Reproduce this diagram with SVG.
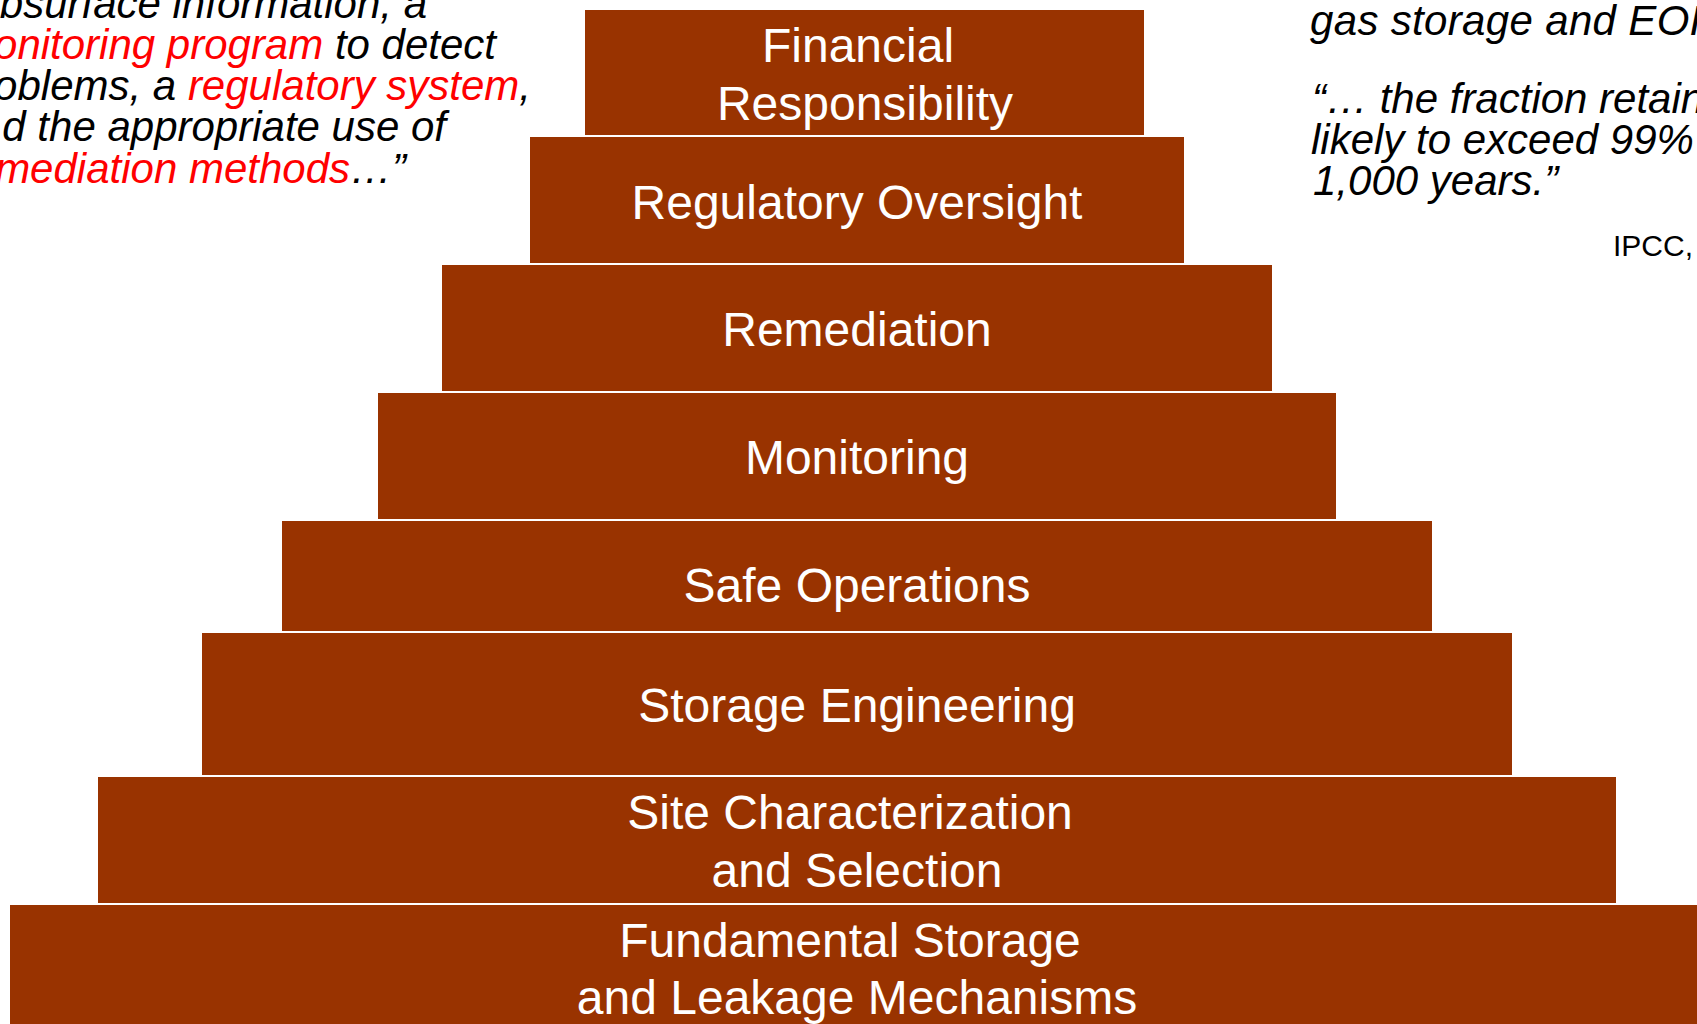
<svg xmlns="http://www.w3.org/2000/svg" width="1697" height="1024" viewBox="0 0 1697 1024">
<style>
.box{fill:#993300;}
.lbl{font-family:"Liberation Sans",Arial,sans-serif;font-size:48px;fill:#ffffff;text-anchor:middle;}
.q{font-family:"Liberation Sans",Arial,sans-serif;font-size:42px;font-style:italic;fill:#000000;}
.r{fill:#ff0000;}
.src{font-family:"Liberation Sans",Arial,sans-serif;font-size:30px;fill:#000000;}
</style>
<rect width="1697" height="1024" fill="#ffffff"/>
<g id="quote-left" class="q" text-anchor="end">
<text x="427" y="17.5">bsurface information, a</text>
<text x="496" y="58.8"><tspan class="r">onitoring program</tspan> to detect</text>
<text x="531" y="100"><tspan>oblems, a </tspan><tspan class="r">regulatory system</tspan>,</text>
<text x="446" y="141.3">d the appropriate use of</text>
<text x="406" y="182.6"><tspan class="r">mediation methods</tspan>…”</text>
</g>
<g id="quote-right">
<text class="q" x="1310" y="35" textLength="410" lengthAdjust="spacing">gas storage and EOR</text>
<text class="q" x="1312" y="112.5">“… the fraction retain</text>
<text class="q" x="1311" y="153.5">likely to exceed 99%</text>
<text class="q" x="1313" y="194.5">1,000 years.”</text>
<text class="src" x="1613" y="256">IPCC,</text>
</g>
<g id="node-financial">
<rect class="box" x="585" y="10" width="559" height="125"/>
<text class="lbl" x="858" y="61.6">Financial</text>
<text class="lbl" x="865" y="120">Responsibility</text>
</g>
<g id="node-regulatory">
<rect class="box" x="530" y="137" width="654" height="126"/>
<text class="lbl" x="857" y="218.5">Regulatory Oversight</text>
</g>
<g id="node-remediation">
<rect class="box" x="442" y="265" width="830" height="126"/>
<text class="lbl" x="857" y="346">Remediation</text>
</g>
<g id="node-monitoring">
<rect class="box" x="378" y="393" width="958" height="126"/>
<text class="lbl" x="857" y="474">Monitoring</text>
</g>
<g id="node-safe-operations">
<rect class="box" x="282" y="521" width="1150" height="110"/>
<text class="lbl" x="857" y="602">Safe Operations</text>
</g>
<g id="node-storage-engineering">
<rect class="box" x="202" y="633" width="1310" height="142"/>
<text class="lbl" x="857" y="722">Storage Engineering</text>
</g>
<g id="node-site-characterization">
<rect class="box" x="98" y="777" width="1518" height="126"/>
<text class="lbl" x="850" y="829">Site Characterization</text>
<text class="lbl" x="857" y="887">and Selection</text>
</g>
<g id="node-fundamental">
<rect class="box" x="10" y="905" width="1687" height="119"/>
<text class="lbl" x="850" y="957">Fundamental Storage</text>
<text class="lbl" x="857" y="1014">and Leakage Mechanisms</text>
</g>
<g id="connectors"></g>
</svg>
